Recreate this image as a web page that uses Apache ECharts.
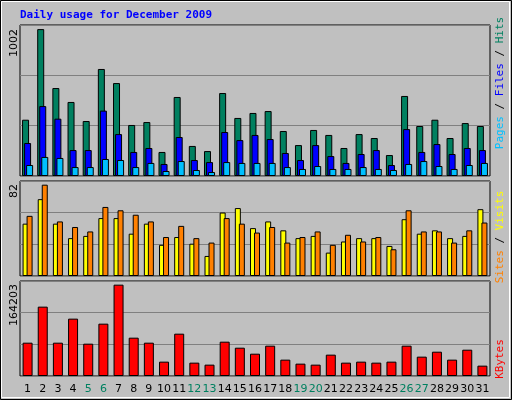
<!DOCTYPE html>
<html><head><meta charset="utf-8">
<script src="https://cdn.jsdelivr.net/npm/echarts@6/dist/echarts.min.js"></script>
<style>html,body{margin:0;padding:0;background:#c0c0c0}#c{width:512px;height:400px}</style>
</head><body><div id="c"></div>
<script>
const days = ['1','2','3','4','5','6','7','8','9','10','11','12','13','14','15','16','17','18','19','20','21','22','23','24','25','26','27','28','29','30','31'];
const weekend = ['5','6','12','13','19','20','26','27'];
const hits = [384,1002,600,505,375,730,634,348,368,164,539,205,170,566,396,430,443,307,211,314,280,191,286,259,143,546,341,384,259,361,341];
const files = [225,477,391,177,177,446,286,164,191,82,266,109,95,300,245,280,252,157,109,211,136,89,150,177,75,320,164,218,150,191,177];
const pages = [75,130,123,61,61,116,109,61,89,34,102,41,27,95,89,89,89,61,48,68,48,48,61,48,41,82,102,68,48,75,89];
const visits = [47,69,47,34,36,52,52,38,47,28,35,29,18,57,61,43,49,41,34,36,21,31,34,34,27,51,38,41,34,36,60];
const sites = [54,82,49,44,40,62,59,55,49,35,45,34,30,52,47,39,44,30,35,40,28,37,31,35,24,59,40,40,30,41,48];
const kbytes = [59900,124700,59900,103100,58100,94100,164203,68900,59900,25800,76100,24000,20400,61700,50900,40100,54500,29400,22200,20400,38400,24000,25800,24000,25800,54500,34800,43700,29400,47300,18600];
const maxLabels = ['1002','82','164203'];

const chart = echarts.init(document.getElementById('c'));
const grids = [{left:20,right:22,top:25,height:151},{left:20,right:22,top:181,height:95},{left:20,right:22,top:281,height:95}];
const maxes = [1030,85.3,170800];
const font = 'DejaVu Sans';
function bar(name, data, color, gi, w, gap){
  return {type:'bar', name, data, xAxisIndex:gi, yAxisIndex:gi, barWidth:w, barGap:gap,
    itemStyle:{color, borderColor:'#000', borderWidth:1}, animation:false};
}
chart.setOption({
  backgroundColor:'#c0c0c0',
  animation:false,
  grid: grids.map(g=>Object.assign({show:true,backgroundColor:'#c0c0c0',borderColor:'#000',borderWidth:1},g)),
  xAxis: [0,1,2].map(i=>({type:'category',gridIndex:i,data:days,axisLine:{show:false},axisTick:{show:false},
    axisLabel:{show:i===2,margin:8,fontFamily:font,fontSize:11,interval:0,
      color:(v)=>weekend.includes(v)?'#008060':'#000'}})),
  yAxis: [0,1,2].map(i=>({type:'value',gridIndex:i,min:0,max:maxes[i],interval:maxes[i]/3,
    axisLabel:{show:false},axisLine:{show:false},axisTick:{show:false},
    splitLine:{show:true,lineStyle:{color:'#808080',width:1}}})),
  series:[
    bar('Hits',hits,'#008060',0,7,'-71%'),
    bar('Files',files,'#0000ff',0,7,'-71%'),
    bar('Pages',pages,'#00c0ff',0,7,'-71%'),
    bar('Visits',visits,'#ffff00',1,6,'-33%'),
    bar('Sites',sites,'#ff8000',1,6,'-33%'),
    bar('KBytes',kbytes,'#ff0000',2,10,'0%')
  ],
  graphic:[
    {type:'rect',shape:{x:0.5,y:0.5,width:511,height:399},style:{fill:'none',stroke:'#000',lineWidth:1},z:-1},
    {type:'rect',shape:{x:1.5,y:1.5,width:508,height:396},style:{fill:'none',stroke:'#ffffff',lineWidth:1},z:-1},
    {type:'text',x:20,y:10,style:{text:'Daily usage for December 2009',fill:'#0000ff',font:'bold 11px "DejaVu Sans Mono"'}},
    {type:'text',x:14,y:29,rotation:Math.PI/2,style:{text:maxLabels[0],fill:'#000',font:'11px DejaVu Sans',align:'right',verticalAlign:'middle'}},
    {type:'text',x:14,y:184,rotation:Math.PI/2,style:{text:maxLabels[1],fill:'#000',font:'11px DejaVu Sans',align:'right',verticalAlign:'middle'}},
    {type:'text',x:14,y:284,rotation:Math.PI/2,style:{text:maxLabels[2],fill:'#000',font:'11px DejaVu Sans',align:'right',verticalAlign:'middle'}},
    {type:'text',x:500,y:83,rotation:Math.PI/2,style:{text:'{p|Pages} / {f|Files} / {h|Hits}',fill:'#000',font:'11px "DejaVu Sans Mono"',align:'center',verticalAlign:'middle',
      rich:{p:{fill:'#00c0ff',font:'11px "DejaVu Sans Mono"'},f:{fill:'#0000ff',font:'11px "DejaVu Sans Mono"'},h:{fill:'#008060',font:'11px "DejaVu Sans Mono"'}}}},
    {type:'text',x:500,y:237,rotation:Math.PI/2,style:{text:'{s|Sites} / {v|Visits}',fill:'#000',font:'11px "DejaVu Sans Mono"',align:'center',verticalAlign:'middle',
      rich:{s:{fill:'#ff8000',font:'11px "DejaVu Sans Mono"'},v:{fill:'#ffff00',font:'11px "DejaVu Sans Mono"'}}}},
    {type:'text',x:500,y:359,rotation:Math.PI/2,style:{text:'KBytes',fill:'#ff0000',font:'11px "DejaVu Sans Mono"',align:'center',verticalAlign:'middle'}}
  ]
});
</script></body></html>
